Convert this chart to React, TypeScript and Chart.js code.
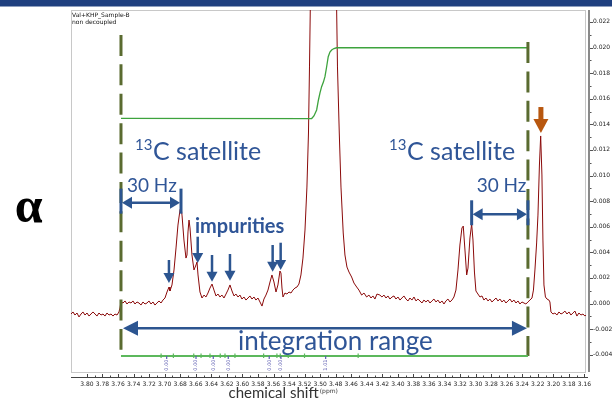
import React, { useEffect, useRef } from "react";
import { Chart, registerables } from "chart.js";

Chart.register(...registerables);

// ---- spectrum (chemical shift in ppm, intensity) ----
const shifts = [
  3.8205, 3.8179, 3.8154, 3.8128, 3.8102, 3.8076, 3.8051, 3.8025, 3.7999, 3.7973,
  3.7948, 3.7922, 3.7896, 3.7871, 3.7845, 3.7819, 3.7793, 3.7768, 3.7742, 3.7716,
  3.7690, 3.7665, 3.7639, 3.7613, 3.7588, 3.7575, 3.7562, 3.7536, 3.7510, 3.7485,
  3.7459, 3.7433, 3.7408, 3.7382, 3.7356, 3.7330, 3.7305, 3.7279, 3.7253, 3.7227,
  3.7202, 3.7176, 3.7150, 3.7125, 3.7099, 3.7073, 3.7047, 3.7022, 3.6996, 3.6970,
  3.6944, 3.6932, 3.6906, 3.6880, 3.6854, 3.6829, 3.6803, 3.6790, 3.6777, 3.6752,
  3.6726, 3.6713, 3.6700, 3.6687, 3.6674, 3.6649, 3.6623, 3.6597, 3.6584, 3.6571,
  3.6546, 3.6520, 3.6494, 3.6469, 3.6443, 3.6417, 3.6391, 3.6366, 3.6340, 3.6314,
  3.6289, 3.6263, 3.6237, 3.6211, 3.6186, 3.6160, 3.6134, 3.6108, 3.6083, 3.6057,
  3.6031, 3.6006, 3.5980, 3.5954, 3.5928, 3.5903, 3.5877, 3.5851, 3.5826, 3.5800,
  3.5774, 3.5748, 3.5723, 3.5697, 3.5671, 3.5645, 3.5620, 3.5594, 3.5568, 3.5543,
  3.5517, 3.5504, 3.5491, 3.5478, 3.5453, 3.5427, 3.5401, 3.5375, 3.5350, 3.5324,
  3.5298, 3.5273, 3.5247, 3.5221, 3.5195, 3.5170, 3.5150, 3.5137, 3.5120, 3.5080,
  3.5030, 3.4960, 3.4900, 3.4835, 3.4795, 3.4777, 3.4754, 3.4732, 3.4703, 3.4681,
  3.4655, 3.4629, 3.4595, 3.4565, 3.4530, 3.4501, 3.4466, 3.4436, 3.4402, 3.4372,
  3.4346, 3.4321, 3.4295, 3.4269, 3.4231, 3.4205, 3.4179, 3.4153, 3.4128, 3.4102,
  3.4076, 3.4050, 3.4025, 3.3999, 3.3973, 3.3948, 3.3922, 3.3896, 3.3870, 3.3845,
  3.3819, 3.3793, 3.3767, 3.3742, 3.3716, 3.3690, 3.3665, 3.3639, 3.3613, 3.3587,
  3.3562, 3.3536, 3.3510, 3.3485, 3.3459, 3.3433, 3.3407, 3.3382, 3.3356, 3.3330,
  3.3304, 3.3279, 3.3253, 3.3227, 3.3202, 3.3176, 3.3159, 3.3137, 3.3115, 3.3098,
  3.3073, 3.3051, 3.3034, 3.3015, 3.2996, 3.2970, 3.2944, 3.2918, 3.2893, 3.2867,
  3.2841, 3.2816, 3.2790, 3.2764, 3.2738, 3.2713, 3.2687, 3.2661, 3.2636, 3.2610,
  3.2584, 3.2558, 3.2533, 3.2507, 3.2481, 3.2455, 3.2430, 3.2404, 3.2378, 3.2353,
  3.2327, 3.2301, 3.2275, 3.2256, 3.2237, 3.2215, 3.2198, 3.2179, 3.2163, 3.2147,
  3.2134, 3.2121, 3.2102, 3.2082, 3.2057, 3.2044, 3.2031, 3.2005, 3.1980, 3.1954,
  3.1928, 3.1902, 3.1877, 3.1851, 3.1825, 3.1799, 3.1774, 3.1748, 3.1722, 3.1697,
  3.1671, 3.1645, 3.1619, 3.1594, 3.1581,
];
const intensities = [
  -0.00082, -0.00066, -0.0009, -0.00074, -0.00105, -0.00082, -0.00066, -0.0009, -0.00074, -0.00098,
  -0.00082, -0.00066, -0.00082, -0.00098, -0.00074, -0.0009, -0.00082, -0.00098, -0.00074, -0.0009,
  -0.00082, -0.00098, -0.00082, -0.0009, -0.00066, -0.00035, 0.00012, 0.00004, 0.0002, -0.00004,
  0.00012, 0.00004, 0.0002, -0.00004, 0.00012, 0.00004, -0.00012, 0.00012, -0.00004, 0.00004,
  0.0002, -0.00004, 0.00012, -0.00012, 0.00004, 0.0002, 0.00004, 0.00027, 0.00043, 0.0009,
  0.00129, 0.00098, 0.00145, 0.00262, 0.00434, 0.00613, 0.0073, 0.00754, 0.00691, 0.00496,
  0.00355, 0.00379, 0.00559, 0.00652, 0.0059, 0.00379, 0.00262, 0.00301, 0.00324, 0.00223,
  0.0009, 0.00043, 0.00066, 0.00051, 0.00082, 0.00121, 0.00152, 0.00105, 0.00059, 0.00074,
  0.00051, 0.00066, 0.00043, 0.00074, 0.00105, 0.00145, 0.00098, 0.00059, 0.00074, 0.00051,
  0.00066, 0.00035, 0.00051, 0.00027, 0.00043, 0.00059, 0.00035, 0.00051, 0.00027, 0.00043,
  0.00012, -0.0002, 0.00035, 0.00066, 0.00105, 0.00168, 0.00223, 0.00168, 0.0009, 0.00145,
  0.00254, 0.00238, 0.00121, 0.00051, 0.00082, 0.00074, 0.0009, 0.00082, 0.00105, 0.00121,
  0.00129, 0.00152, 0.00223, 0.00355, 0.00574, 0.0091, 0.01332, 0.01848, 0.026, 0.045,
  0.06, 0.052, 0.06, 0.045, 0.026, 0.01848, 0.01332, 0.0091, 0.00551, 0.00379,
  0.00285, 0.00246, 0.00207, 0.0016, 0.00129, 0.00105, 0.00066, 0.00082, 0.00051, 0.00066,
  0.00043, 0.00059, 0.00035, 0.00074, 0.00066, 0.00051, 0.00066, 0.00043, 0.00059, 0.00035,
  0.00051, 0.00059, 0.00035, 0.00051, 0.00027, 0.00043, 0.00059, 0.00035, 0.0002, 0.00043,
  0.00027, 0.00051, 0.0002, 0.00035, 0.0002, 0.00004, 0.00027, 0.00012, 0.00027, 0.00004,
  0.0002, 0.00035, 0.00012, 0.00027, 0.00004, 0.0002, -0.00004, 0.0002, 0.00035, 0.00012,
  0.00027, 0.00051, 0.00105, 0.00262, 0.00457, 0.0059, 0.00605, 0.00418, 0.00223, 0.00277,
  0.00512, 0.00621, 0.00496, 0.00246, 0.00098, 0.00074, 0.00051, 0.00059, 0.00027, 0.00043,
  0.0002, 0.00035, 0.00012, 0.00027, 0.00043, 0.0002, 0.00035, 0.00012, 0.00027, 0.00004,
  0.0002, 0.00035, 0.00012, 0.00027, 0.00004, 0.0002, -0.00004, 0.00012, 0.00004, -0.00004,
  0.00012, 0.00027, 0.00043, 0.00105, 0.00262, 0.00473, 0.00691, 0.01082, 0.01309, 0.01004,
  0.00496, 0.00145, 0.00051, 0.00035, 0.00027, 0.00012, -0.00066, -0.00082, -0.00074, -0.0009,
  -0.00066, -0.00082, -0.00074, -0.00059, -0.00082, -0.00066, -0.0009, -0.00074, -0.00059, -0.00098,
  -0.00074, -0.0009, -0.00082, -0.00098, -0.0009,
];

// ---- integral curve ----
const integralShifts = [3.7562, 3.5109, 3.508, 3.5045, 3.5022, 3.5002, 3.4981, 3.4958, 3.4938, 3.4919, 3.4896, 3.4874, 3.4852, 3.4822, 3.4788, 3.2327];
const integralValues = [0.01447, 0.01445, 0.01465, 0.01512, 0.0159, 0.01645, 0.01694, 0.0173, 0.01772, 0.0184, 0.01928, 0.01965, 0.0198, 0.01992, 0.01998, 0.01998];

// ---- axes ----
const xTickValues = [3.8, 3.78, 3.76, 3.74, 3.72, 3.7, 3.68, 3.66, 3.64, 3.62, 3.6, 3.58, 3.56, 3.54, 3.52, 3.5, 3.48, 3.46, 3.44, 3.42, 3.4, 3.38, 3.36, 3.34, 3.32, 3.3, 3.28, 3.26, 3.24, 3.22, 3.2, 3.18, 3.16];
const yTickValues = [0.022, 0.02, 0.018, 0.016, 0.014, 0.012, 0.01, 0.008, 0.006, 0.004, 0.002, 0, -0.002, -0.004];

// ---- integration regions ----
const integrationBounds = [3.7562, 3.2327];
const regionStarts = [3.7046, 3.6626, 3.6417, 3.6224, 3.5727, 3.5513, 3.5201];
const regionEnds = [3.6888, 3.6532, 3.6285, 3.6096, 3.5556, 3.541, 3.4511];
const regionLabelShifts = [3.6974, 3.6597, 3.6375, 3.6182, 3.5655, 3.5504, 3.4929];
const regionLabels = ["0.00", "0.00", "0.00", "0.00", "0.00", "0.00", "1.01"];

// ---- annotation marks ----
const impurityShifts = [3.6945, 3.6575, 3.6391, 3.616, 3.5611, 3.5508];
const impurityTops = [0.0034, 0.00522, 0.00379, 0.00387, 0.00457, 0.00475];
const impurityTips = [0.0016, 0.00316, 0.0017, 0.00178, 0.00248, 0.00262];
const satelliteInner = [3.679, 3.3051];
const methylShift = 3.216;

const BLUE = "#2f5597";
const ARROW = "#2c5590";
const OLIVE = "#5a6b30";

function head(ctx: CanvasRenderingContext2D, tx: number, ty: number, dx: number, dy: number, len: number, half: number) {
  const bx = tx - dx * len;
  const by = ty - dy * len;
  const px = -dy;
  const py = dx;
  ctx.beginPath();
  ctx.moveTo(tx, ty);
  ctx.lineTo(bx + px * half, by + py * half);
  ctx.lineTo(bx - px * half, by - py * half);
  ctx.closePath();
  ctx.fill();
}

function hArrow(ctx: CanvasRenderingContext2D, x1: number, x2: number, y: number, len: number, half: number, lw: number) {
  ctx.lineWidth = lw;
  ctx.beginPath();
  ctx.moveTo(x1 + len - 1, y);
  ctx.lineTo(x2 - len + 1, y);
  ctx.stroke();
  head(ctx, x1, y, -1, 0, len, half);
  head(ctx, x2, y, 1, 0, len, half);
}

const decor = {
  id: "decor",
  beforeDraw(chart: any) {
    const { ctx, chartArea: a } = chart;
    ctx.save();
    ctx.fillStyle = "#ffffff";
    ctx.fillRect(0, 0, chart.width, chart.height);
    ctx.fillStyle = "#1f3f7f";
    ctx.fillRect(0, 0, chart.width, 6.5);
    ctx.strokeStyle = "#c8c8c8";
    ctx.lineWidth = 1;
    ctx.strokeRect(a.left + 0.5, a.top + 0.5, a.right - a.left - 1, a.bottom - a.top);
    ctx.fillStyle = "#111";
    ctx.font = "6px 'DejaVu Sans'";
    ctx.textAlign = "left";
    ctx.textBaseline = "alphabetic";
    ctx.fillText("Val+KHP_Sample-B", a.left + 1, a.top + 7);
    ctx.fillText("non decoupled", a.left + 1, a.top + 14);
    ctx.restore();
  },
  afterDatasetsDraw(chart: any) {
    const ctx: CanvasRenderingContext2D = chart.ctx;
    const X = (v: number) => chart.scales.x.getPixelForValue(v);
    const Y = (v: number) => chart.scales.y.getPixelForValue(v);
    ctx.save();

    // dashed integration bounds
    ctx.strokeStyle = OLIVE;
    ctx.lineWidth = 3;
    ctx.setLineDash([21, 8.4]);
    const tops = [0.02098, 0.02043];
    const bots = [-0.00362, -0.0041];
    integrationBounds.forEach((b, i) => {
      ctx.beginPath();
      ctx.moveTo(X(b), Y(tops[i]));
      ctx.lineTo(X(b), Y(bots[i]));
      ctx.stroke();
    });
    ctx.setLineDash([]);

    // integration range bar
    const yr = Y(-0.0041);
    ctx.strokeStyle = "#5cb85c";
    ctx.lineWidth = 2;
    ctx.beginPath();
    ctx.moveTo(X(integrationBounds[0]), yr);
    ctx.lineTo(X(integrationBounds[1]), yr);
    ctx.stroke();
    ctx.lineWidth = 1.2;
    regionStarts.forEach((s, i) => {
      [s, regionEnds[i]].forEach((p) => {
        ctx.beginPath();
        ctx.moveTo(X(p), yr - 2.5);
        ctx.lineTo(X(p), yr + 2);
        ctx.stroke();
      });
    });
    ctx.strokeStyle = "#5a5ab0";
    ctx.fillStyle = "#5a5ab0";
    ctx.font = "5px 'DejaVu Sans'";
    regionLabelShifts.forEach((s, i) => {
      const x = X(s);
      ctx.beginPath();
      ctx.moveTo(x, yr);
      ctx.lineTo(x, yr + 3);
      ctx.stroke();
      ctx.save();
      ctx.translate(x, yr + 3.5);
      ctx.rotate(-Math.PI / 2);
      ctx.textAlign = "right";
      ctx.textBaseline = "middle";
      ctx.fillText(regionLabels[i], 0, 0);
      ctx.restore();
    });

    // texts
    ctx.fillStyle = BLUE;
    ctx.textAlign = "left";
    ctx.textBaseline = "alphabetic";
    [3.715, 3.3883].forEach((s) => {
      const x = X(s);
      const y = Y(0.01121);
      ctx.font = "25px Lato";
      ctx.fillText("C satellite", x, y);
      ctx.font = "15px Lato";
      const w = ctx.measureText("13").width;
      ctx.fillText("13", x - w - 0.5, y - 10);
    });
    ctx.font = "19px Lato";
    ctx.fillText("30 Hz", X(3.7485), Y(0.00871));
    ctx.fillText("30 Hz", X(3.2987), Y(0.00873));
    ctx.font = "bold 20px Lato";
    ctx.fillText("impurities", X(3.661), Y(0.00553));
    ctx.font = "26px Lato";
    ctx.fillText("integration range", X(3.6057), Y(-0.00363));

    // 30 Hz arrows
    ctx.fillStyle = ARROW;
    ctx.strokeStyle = ARROW;
    const arrowYs = [0.00788, 0.00697];
    [[integrationBounds[0], satelliteInner[0]], [satelliteInner[1], integrationBounds[1]]].forEach((pair, i) => {
      const y = Y(arrowYs[i]);
      const xa = X(pair[0]);
      const xb = X(pair[1]);
      hArrow(ctx, xa + 1, xb - 1, y, 10, 6, 2.5);
      ctx.lineWidth = 3;
      [xa, xb].forEach((x) => {
        ctx.beginPath();
        ctx.moveTo(x, y - 14);
        ctx.lineTo(x, y + 11);
        ctx.stroke();
      });
    });

    // integration range arrow
    hArrow(ctx, X(integrationBounds[0]) + 2, X(integrationBounds[1]) - 1, Y(-0.00194), 15, 7.5, 2.5);

    // impurity arrows
    impurityShifts.forEach((s, i) => {
      const x = X(s);
      const yt = Y(impurityTops[i]);
      const yp = Y(impurityTips[i]);
      ctx.lineWidth = 2.5;
      ctx.beginPath();
      ctx.moveTo(x, yt);
      ctx.lineTo(x, yp - 9);
      ctx.stroke();
      head(ctx, x, yp, 0, 1, 10, 5.5);
    });

    // orange arrow
    ctx.fillStyle = "#b8570f";
    ctx.strokeStyle = "#b8570f";
    const xo = X(methylShift);
    ctx.lineWidth = 5;
    ctx.beginPath();
    ctx.moveTo(xo, Y(0.01535));
    ctx.lineTo(xo, Y(0.01332) - 12);
    ctx.stroke();
    head(ctx, xo, Y(0.01332), 0, 1, 14, 7.5);

    // alpha
    ctx.fillStyle = "#000";
    ctx.font = "bold 50px 'Liberation Serif'";
    ctx.textAlign = "center";
    ctx.fillText("α", X(3.8748), Y(0.00636));
    ctx.restore();
  },
  afterDraw(chart: any) {
    const ctx: CanvasRenderingContext2D = chart.ctx;
    const { chartArea: a } = chart;
    const X = (v: number) => chart.scales.x.getPixelForValue(v);
    const Y = (v: number) => chart.scales.y.getPixelForValue(v);
    ctx.save();
    // bottom axis
    const yb = a.bottom + 5.5;
    ctx.strokeStyle = "#444";
    ctx.lineWidth = 1;
    ctx.beginPath();
    ctx.moveTo(a.left, yb);
    ctx.lineTo(a.right + 2, yb);
    ctx.stroke();
    ctx.fillStyle = "#222";
    ctx.font = "6px 'DejaVu Sans'";
    ctx.textAlign = "center";
    ctx.textBaseline = "middle";
    xTickValues.forEach((v, i) => {
      const x = Math.round(X(v)) + 0.5;
      ctx.beginPath();
      ctx.moveTo(x, yb - 3.5);
      ctx.lineTo(x, yb);
      ctx.stroke();
      if (i < xTickValues.length - 1) {
        const xm = Math.round(X((v + xTickValues[i + 1]) / 2)) + 0.5;
        ctx.beginPath();
        ctx.moveTo(xm, yb - 2);
        ctx.lineTo(xm, yb);
        ctx.stroke();
      }
      ctx.fillText(v.toFixed(2), X(v), a.bottom + 12.5);
    });
    // axis title
    ctx.fillStyle = "#333";
    ctx.textAlign = "right";
    ctx.textBaseline = "alphabetic";
    ctx.font = "15px Lato";
    ctx.fillText("chemical shift", X(3.5019), a.bottom + 26);
    ctx.textAlign = "left";
    ctx.font = "6px 'DejaVu Sans'";
    ctx.fillText("(ppm)", X(3.5005), a.bottom + 21);

    // right axis
    ctx.fillStyle = "#8a8a8a";
    ctx.fillRect(a.right + 2, a.top, 2, a.bottom - a.top);
    ctx.strokeStyle = "#555";
    ctx.fillStyle = "#222";
    ctx.textBaseline = "middle";
    yTickValues.forEach((v, i) => {
      const y = Math.round(Y(v)) + 0.5;
      ctx.beginPath();
      ctx.moveTo(a.right + 4, y);
      ctx.lineTo(a.right + 7, y);
      ctx.stroke();
      ctx.fillText(v.toFixed(3), a.right + 7, Y(v));
      if (i < yTickValues.length - 1) {
        const ym = Math.round(Y((v + yTickValues[i + 1]) / 2)) + 0.5;
        ctx.beginPath();
        ctx.moveTo(a.right + 4, ym);
        ctx.lineTo(a.right + 5.5, ym);
        ctx.stroke();
      }
    });
    ctx.restore();
  },
};

export default function App() {
  const ref = useRef<HTMLCanvasElement>(null);
  useEffect(() => {
    if (!ref.current) return;
    const spectrum = shifts.map((s, i) => ({ x: s, y: intensities[i] }));
    const integral = integralShifts.map((s, i) => ({ x: s, y: integralValues[i] }));
    const chart = new Chart(ref.current, {
      type: "line",
      data: {
        datasets: [
          { data: integral, borderColor: "#3da33d", borderWidth: 1.3, pointRadius: 0, tension: 0 },
          { data: spectrum, borderColor: "#8b0a0a", borderWidth: 1, pointRadius: 0, tension: 0 },
        ],
      },
      options: {
        responsive: false,
        animation: false,
        devicePixelRatio: 1,
        layout: { padding: { left: 71, top: 10, right: 26, bottom: 28 } },
        scales: {
          x: { type: "linear", reverse: true, min: 3.158, max: 3.8205, display: false },
          y: { type: "linear", min: -0.00535, max: 0.02293, display: false },
        },
        plugins: { legend: { display: false }, tooltip: { enabled: false } },
      },
      plugins: [decor],
    });
    return () => chart.destroy();
  }, []);
  return (
    <div style={{ position: "fixed", left: 0, top: 0, width: 612, height: 400, background: "#fff" }}>
      <canvas ref={ref} width={612} height={400} style={{ display: "block", width: 612, height: 400 }} />
    </div>
  );
}
